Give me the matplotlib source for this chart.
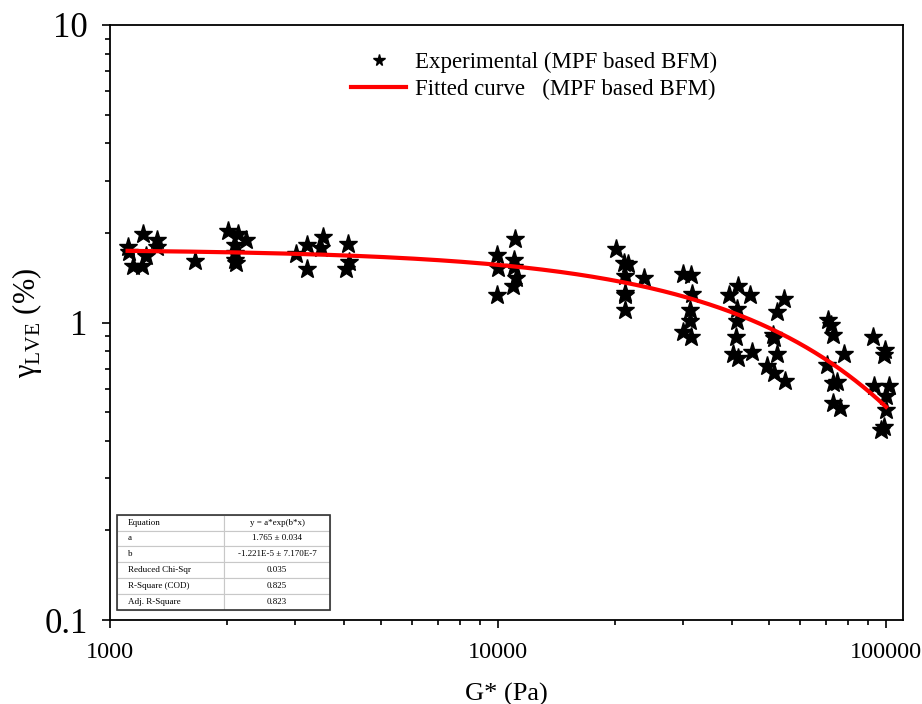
import numpy as np
import matplotlib
matplotlib.use("Agg")
import matplotlib.pyplot as plt
from matplotlib import ticker
from matplotlib.patches import Rectangle

plt.rcParams["font.family"] = ["Liberation Serif", "DejaVu Serif"]
plt.rcParams["mathtext.fontset"] = "custom"
plt.rcParams["mathtext.rm"] = "Liberation Serif"

# experimental points, G* (Pa) and gamma_LVE (%)
g_star = [1111, 1122, 1149, 1212, 1219, 1237, 1320, 1320, 1655,
          2014, 2133, 2104, 2104, 2104, 2116, 2242,
          3024, 3219, 3211, 3545, 3489, 4105, 4129, 4048,
          9940, 9980, 9940, 11084, 11018, 11018, 11130, 10953,
          20178, 21075, 21631, 21200, 21200, 21290, 21200, 23740,
          30010, 31340, 31530, 31210, 31210, 30010, 31340,
          39460, 41640, 44610, 41390, 41390, 41050, 40420, 41640, 45060,
          54730, 52510, 51270, 51570, 52510, 49470, 51570, 54930,
          70700, 72100, 72950, 77740, 70410, 72950, 74700, 72950, 76180,
          92550, 99580, 98650, 93280, 101600, 100000, 100000, 98650, 97250]
gamma = [1.789, 1.722, 1.549, 1.549, 1.984, 1.673, 1.894, 1.789, 1.613,
         2.030, 1.984, 1.822, 1.712, 1.622, 1.581, 1.894,
         1.695, 1.822, 1.509, 1.934, 1.776, 1.832, 1.601, 1.513,
         1.686, 1.521, 1.237, 1.904, 1.622, 1.540, 1.408, 1.329,
         1.766, 1.581, 1.569, 1.433, 1.259, 1.237, 1.102, 1.408,
         1.456, 1.444, 1.247, 1.102, 1.014, 0.927, 0.896,
         1.237, 1.329, 1.237, 1.107, 1.014, 0.896, 0.784, 0.758, 0.798,
         1.197, 1.087, 0.908, 0.885, 0.784, 0.714, 0.675, 0.636,
         1.020, 0.981, 0.908, 0.784, 0.720, 0.625, 0.633, 0.538, 0.515,
         0.896, 0.808, 0.778, 0.613, 0.613, 0.566, 0.508, 0.446, 0.435]

# fit y = a*exp(b*x)
a = 1.765
b = -1.221e-5
fit_range = [1110, 100000]

table_rows = [
    ["Equation", "y = a*exp(b*x)"],
    ["a", "1.765 \u00b1 0.034"],
    ["b", "-1.221E-5 \u00b1 7.170E-7"],
    ["Reduced Chi-Sqr", "0.035"],
    ["R-Square (COD)", "0.825"],
    ["Adj. R-Square", "0.823"],
]

fig = plt.figure(figsize=(9.22, 7.04), dpi=100)
ax = fig.add_axes([0.1193, 0.1193, 0.8601, 0.8452])

ax.plot(g_star, gamma, ls="none", marker="*", ms=14, color="black",
        label="Experimental (MPF based BFM)")
xf = np.linspace(fit_range[0], fit_range[1], 400)
ax.plot(xf, a * np.exp(b * xf), color="red", lw=3,
        label="Fitted curve   (MPF based BFM)")

ax.set_xscale("log")
ax.set_yscale("log")
ax.set_xlim(1000, 110600)
ax.set_ylim(0.1, 10)

fmt = ticker.FuncFormatter(lambda v, p: f"{v:g}")
ax.xaxis.set_major_locator(ticker.FixedLocator([1000, 10000, 100000]))
ax.yaxis.set_major_locator(ticker.FixedLocator([0.1, 1, 10]))
ax.xaxis.set_major_formatter(fmt)
ax.yaxis.set_major_formatter(fmt)
ax.xaxis.set_minor_formatter(ticker.NullFormatter())
ax.yaxis.set_minor_formatter(ticker.NullFormatter())
ax.tick_params(which="major", direction="out", length=6, width=1.2)
ax.tick_params(which="minor", direction="out", length=3.5, width=1.2)
ax.tick_params(axis="x", labelsize=17.5, pad=10)
ax.tick_params(axis="y", labelsize=25, pad=10)
for s in ax.spines.values():
    s.set_linewidth(1.3)

ax.set_xlabel("G* (Pa)", fontsize=19, labelpad=14)
ax.set_ylabel(r"γ$_{\mathrm{LVE}}$ (%)", fontsize=22, labelpad=0)

ax.legend(loc="upper center", bbox_to_anchor=(0.535, 0.99), frameon=False,
          fontsize=16.5, markerscale=0.6, handlelength=2.4, labelspacing=0.25,
          handletextpad=0.4)

tb = ax.table(cellText=table_rows, colWidths=[0.5, 0.5], cellLoc="center",
              bbox=[0.009, 0.017, 0.269, 0.160])
tb.auto_set_font_size(False)
for (r, c), cell in tb.get_celld().items():
    cell.set_edgecolor("#c8c8c8")
    cell.set_linewidth(0.8)
    cell.get_text().set_fontsize(6.5)
    if c == 0:
        cell._loc = "left"
        cell.get_text().set_horizontalalignment("left")
ax.add_patch(Rectangle((0.009, 0.017), 0.269, 0.160, transform=ax.transAxes,
                       fill=False, edgecolor="#333333", lw=1.2, zorder=5))

fig.savefig("out.png", dpi=100)
